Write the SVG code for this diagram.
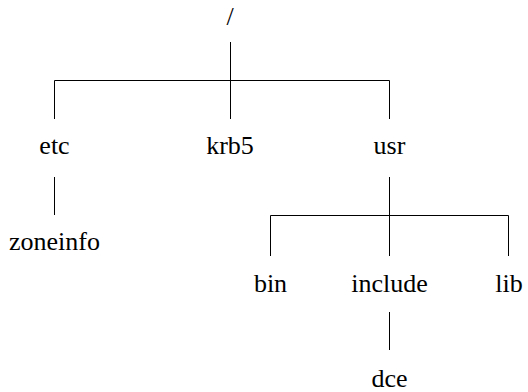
<svg xmlns="http://www.w3.org/2000/svg" width="528" height="392" viewBox="0 0 528 392">
<defs>
<style>
.c line{stroke:#000;stroke-width:1;fill:none}
</style>
</defs>
<rect width="528" height="392" fill="#fff"/>
<g class="c" id="connectors">
<line x1="230.5" y1="42" x2="230.5" y2="119"/>
<line x1="54.5" y1="80.5" x2="389.5" y2="80.5"/>
<line x1="54.5" y1="80.5" x2="54.5" y2="119"/>
<line x1="389.5" y1="80.5" x2="389.5" y2="119"/>
<line x1="54.5" y1="177" x2="54.5" y2="215"/>
<line x1="389.5" y1="177" x2="389.5" y2="256"/>
<line x1="270.5" y1="215.5" x2="508.5" y2="215.5"/>
<line x1="270.5" y1="215.5" x2="270.5" y2="256"/>
<line x1="508.5" y1="215.5" x2="508.5" y2="256"/>
<line x1="389.5" y1="312" x2="389.5" y2="350"/>
</g>
<g id="root"><text x="230" y="25" font-family="Liberation Serif" font-size="26" text-anchor="middle" style="font-family:'Liberation Serif',serif">/</text></g>
<g id="etc"><text x="54.5" y="154" font-family="Liberation Serif" font-size="26" text-anchor="middle" style="font-family:'Liberation Serif',serif">etc</text></g>
<g id="krb5"><text x="230" y="154" font-family="Liberation Serif" font-size="26" text-anchor="middle" style="font-family:'Liberation Serif',serif">krb5</text></g>
<g id="usr"><text x="389.5" y="154" font-family="Liberation Serif" font-size="26" text-anchor="middle" style="font-family:'Liberation Serif',serif">usr</text></g>
<g id="zoneinfo"><text x="54.5" y="250" font-family="Liberation Serif" font-size="26" text-anchor="middle" style="font-family:'Liberation Serif',serif">zoneinfo</text></g>
<g id="bin"><text x="270.5" y="292" font-family="Liberation Serif" font-size="26" text-anchor="middle" style="font-family:'Liberation Serif',serif">bin</text></g>
<g id="include"><text x="389.5" y="292" font-family="Liberation Serif" font-size="26" text-anchor="middle" style="font-family:'Liberation Serif',serif">include</text></g>
<g id="lib"><text x="509" y="292" font-family="Liberation Serif" font-size="26" text-anchor="middle" style="font-family:'Liberation Serif',serif">lib</text></g>
<g id="dce"><text x="389.5" y="387" font-family="Liberation Serif" font-size="26" text-anchor="middle" style="font-family:'Liberation Serif',serif">dce</text></g>
</svg>
